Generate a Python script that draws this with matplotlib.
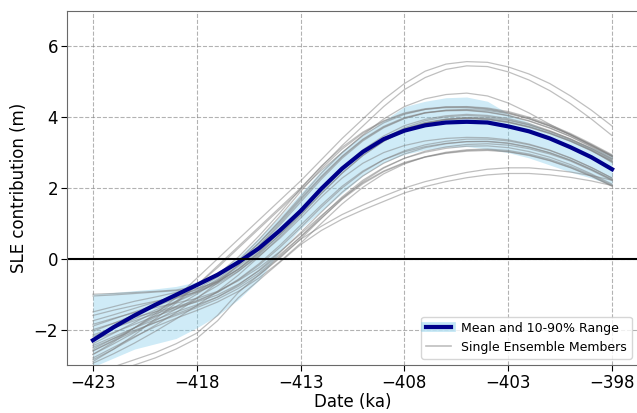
import matplotlib.pyplot as plt
import numpy as np
from matplotlib.lines import Line2D

# Eje de tiempo (ka), un valor por cada mil años
fechas = np.arange(-423, -397)

# Media del ensamble y rango 10-90 %
media = [-2.30, -1.93, -1.60, -1.30, -1.02, -0.74, -0.45, -0.10, 0.30, 0.80,
         1.35, 1.98, 2.55, 3.02, 3.38, 3.62, 3.77, 3.85, 3.87, 3.85,
         3.74, 3.60, 3.40, 3.15, 2.87, 2.53]
p10 = [-3.05, -2.80, -2.55, -2.40, -2.25, -1.95, -1.60, -1.15, -0.60, 0.20,
       0.85, 1.35, 1.85, 2.35, 2.72, 2.95, 3.08, 3.15, 3.17, 3.10,
       3.00, 2.85, 2.65, 2.45, 2.28, 2.08]
p90 = [-1.00, -0.95, -0.90, -0.85, -0.78, -0.65, -0.40, 0.05, 0.60, 1.20,
       1.85, 2.50, 3.05, 3.50, 3.90, 4.30, 4.45, 4.55, 4.57, 4.45,
       4.10, 3.85, 3.60, 3.38, 3.15, 2.95]

# Miembros individuales del ensamble
miembros = [
    [-2.70, -2.35, -1.95, -1.55, -1.10, -0.55, 0.00, 0.55, 1.10, 1.65, 2.20, 2.80, 3.40, 3.95, 4.50, 4.95, 5.30, 5.50, 5.57, 5.55, 5.42, 5.22, 4.95, 4.60, 4.20, 3.75],
    [-2.90, -2.55, -2.15, -1.70, -1.25, -0.75, -0.20, 0.35, 0.90, 1.45, 2.00, 2.60, 3.20, 3.75, 4.30, 4.78, 5.12, 5.35, 5.45, 5.43, 5.28, 5.05, 4.75, 4.38, 3.95, 3.48],
    [-2.60, -2.30, -1.95, -1.60, -1.20, -0.75, -0.25, 0.30, 0.85, 1.40, 1.95, 2.50, 3.00, 3.50, 3.95, 4.30, 4.52, 4.64, 4.68, 4.60, 4.40, 4.12, 3.80, 3.50, 3.20, 2.90],
    [-3.35, -3.05, -2.85, -2.65, -2.40, -2.10, -1.60, -0.95, -0.45, 0.05, 0.55, 0.92, 1.25, 1.52, 1.77, 2.00, 2.18, 2.32, 2.44, 2.53, 2.57, 2.57, 2.52, 2.45, 2.35, 2.22],
    [-3.50, -3.20, -3.00, -2.80, -2.55, -2.25, -1.75, -1.10, -0.60, -0.10, 0.40, 0.80, 1.12, 1.38, 1.62, 1.86, 2.04, 2.18, 2.29, 2.37, 2.41, 2.41, 2.37, 2.30, 2.20, 2.07],
    [-1.00, -0.98, -0.95, -0.92, -0.88, -0.78, -0.50, -0.05, 0.55, 1.20, 1.90, 2.55, 3.10, 3.55, 3.88, 4.10, 4.22, 4.27, 4.27, 4.22, 4.12, 3.96, 3.75, 3.50, 3.21, 2.90],
    [-1.05, -1.02, -0.98, -0.94, -0.90, -0.84, -0.65, -0.30, 0.15, 0.68, 1.25, 1.85, 2.42, 2.92, 3.32, 3.62, 3.82, 3.94, 3.99, 3.98, 3.91, 3.78, 3.60, 3.38, 3.12, 2.82],
    [-1.50, -1.35, -1.20, -1.08, -0.95, -0.78, -0.45, 0.05, 0.65, 1.30, 1.98, 2.62, 3.15, 3.58, 3.90, 4.12, 4.24, 4.29, 4.29, 4.24, 4.13, 3.97, 3.76, 3.51, 3.22, 2.92],
    [-1.75, -1.58, -1.40, -1.22, -1.05, -0.88, -0.62, -0.22, 0.25, 0.80, 1.40, 2.00, 2.55, 3.02, 3.40, 3.67, 3.85, 3.95, 3.98, 3.95, 3.86, 3.72, 3.54, 3.32, 3.05, 2.74],
    [-1.90, -1.70, -1.50, -1.30, -1.10, -0.85, -0.52, -0.08, 0.45, 1.05, 1.70, 2.33, 2.90, 3.38, 3.74, 3.99, 4.13, 4.19, 4.20, 4.15, 4.05, 3.90, 3.70, 3.46, 3.18, 2.88],
    [-2.05, -1.82, -1.58, -1.35, -1.12, -0.92, -0.66, -0.30, 0.18, 0.75, 1.38, 2.00, 2.58, 3.08, 3.47, 3.76, 3.94, 4.04, 4.08, 4.05, 3.96, 3.82, 3.62, 3.39, 3.12, 2.80],
    [-2.20, -1.95, -1.70, -1.45, -1.20, -0.92, -0.58, -0.12, 0.45, 1.08, 1.75, 2.42, 3.00, 3.48, 3.84, 4.08, 4.22, 4.29, 4.30, 4.26, 4.16, 4.00, 3.79, 3.54, 3.25, 2.94],
    [-2.40, -2.10, -1.80, -1.50, -1.22, -0.96, -0.66, -0.28, 0.20, 0.76, 1.36, 1.96, 2.52, 3.00, 3.38, 3.66, 3.84, 3.93, 3.96, 3.93, 3.85, 3.72, 3.54, 3.32, 3.06, 2.76],
    [-2.55, -2.25, -1.95, -1.65, -1.35, -1.00, -0.62, -0.18, 0.35, 0.95, 1.60, 2.25, 2.84, 3.33, 3.70, 3.96, 4.12, 4.20, 4.22, 4.19, 4.10, 3.95, 3.75, 3.51, 3.22, 2.90],
    [-2.70, -2.40, -2.08, -1.75, -1.42, -1.10, -0.76, -0.36, 0.12, 0.68, 1.30, 1.93, 2.50, 3.00, 3.40, 3.70, 3.90, 4.01, 4.05, 4.02, 3.93, 3.79, 3.60, 3.37, 3.09, 2.77],
    [-2.85, -2.55, -2.22, -1.88, -1.52, -1.12, -0.68, -0.18, 0.38, 1.00, 1.66, 2.30, 2.88, 3.36, 3.72, 3.97, 4.12, 4.18, 4.19, 4.14, 4.04, 3.89, 3.69, 3.45, 3.16, 2.84],
    [-2.95, -2.68, -2.38, -2.05, -1.70, -1.32, -0.92, -0.46, 0.06, 0.62, 1.22, 1.84, 2.42, 2.92, 3.32, 3.62, 3.82, 3.93, 3.97, 3.95, 3.87, 3.74, 3.56, 3.34, 3.07, 2.72],
    [-1.60, -1.45, -1.32, -1.20, -1.08, -0.95, -0.70, -0.35, 0.08, 0.58, 1.15, 1.75, 2.28, 2.70, 3.00, 3.20, 3.33, 3.40, 3.43, 3.42, 3.36, 3.24, 3.07, 2.85, 2.58, 2.28],
    [-1.85, -1.68, -1.52, -1.38, -1.25, -1.12, -0.92, -0.62, -0.25, 0.20, 0.70, 1.22, 1.72, 2.15, 2.48, 2.72, 2.88, 2.99, 3.06, 3.08, 3.03, 2.93, 2.78, 2.58, 2.34, 2.06],
    [-2.00, -1.82, -1.65, -1.50, -1.35, -1.18, -0.94, -0.58, -0.14, 0.38, 0.95, 1.52, 2.05, 2.48, 2.80, 3.02, 3.17, 3.26, 3.31, 3.31, 3.26, 3.15, 2.99, 2.78, 2.52, 2.23],
    [-2.15, -1.95, -1.75, -1.55, -1.38, -1.22, -1.02, -0.72, -0.34, 0.12, 0.62, 1.15, 1.68, 2.12, 2.46, 2.70, 2.87, 2.98, 3.04, 3.06, 3.02, 2.92, 2.77, 2.57, 2.33, 2.05],
    [-2.30, -2.08, -1.85, -1.62, -1.42, -1.20, -0.95, -0.60, -0.18, 0.32, 0.88, 1.46, 2.00, 2.45, 2.80, 3.05, 3.22, 3.32, 3.38, 3.38, 3.33, 3.22, 3.06, 2.84, 2.58, 2.28],
    [-2.45, -2.20, -1.95, -1.72, -1.50, -1.30, -1.08, -0.78, -0.40, 0.08, 0.62, 1.20, 1.75, 2.22, 2.58, 2.84, 3.01, 3.12, 3.18, 3.19, 3.14, 3.03, 2.87, 2.66, 2.40, 2.11],
    [-2.60, -2.32, -2.05, -1.80, -1.56, -1.34, -1.08, -0.74, -0.32, 0.18, 0.74, 1.32, 1.88, 2.34, 2.70, 2.96, 3.14, 3.25, 3.31, 3.32, 3.27, 3.16, 3.00, 2.79, 2.53, 2.24],
    [-2.80, -2.50, -2.20, -1.92, -1.68, -1.46, -1.22, -0.92, -0.54, -0.08, 0.44, 1.00, 1.55, 2.02, 2.40, 2.68, 2.88, 3.01, 3.08, 3.10, 3.06, 2.96, 2.81, 2.61, 2.37, 2.08],
    [-2.50, -2.25, -2.02, -1.80, -1.60, -1.38, -1.14, -0.84, -0.46, 0.02, 0.56, 1.14, 1.70, 2.18, 2.56, 2.84, 3.04, 3.16, 3.23, 3.25, 3.21, 3.11, 2.96, 2.76, 2.50, 2.21],
]

ticks_x = [-423, -418, -413, -408, -403, -398]
ticks_y = [-2, 0, 2, 4, 6]

fig = plt.figure(figsize=(6.37, 4.13), dpi=100)
ax = fig.add_axes([0.1052, 0.1162, 0.8964, 0.8572])

# Rango 10-90 % sombreado
ax.fill_between(fechas, p10, p90, color='skyblue', alpha=0.4, linewidth=0)

# Cada miembro del ensamble en gris
for m in miembros:
    ax.plot(fechas, m, color='gray', alpha=0.5, linewidth=0.9)

# Media del ensamble
ax.plot(fechas, media, color='darkblue', linewidth=3)

# Línea en y = 0
ax.axhline(y=0, color='black', linewidth=1.5)

ax.set_xlim(-424.25, -396.75)
ax.set_ylim(-3, 7)
ax.set_xticks(ticks_x)
ax.set_yticks(ticks_y)
ax.tick_params(labelsize=12, length=4, pad=2.5)
ax.grid(True, linestyle='--', color='gray', alpha=0.6, linewidth=0.8)
ax.set_axisbelow(True)
for s in ax.spines.values():
    s.set_color('dimgray')

ax.set_xlabel('Date (ka)', fontsize=12, labelpad=1)
ax.set_ylabel('SLE contribution (m)', fontsize=12, labelpad=4)

# Leyenda con la banda y la media juntas
h_media = (Line2D([], [], color='skyblue', alpha=0.5, linewidth=7),
           Line2D([], [], color='darkblue', linewidth=3))
h_miembro = Line2D([], [], color='gray', alpha=0.5, linewidth=1.2)
ax.legend([h_media, h_miembro], ['Mean and 10-90% Range', 'Single Ensemble Members'],
          loc='lower right', fontsize=9)

plt.savefig('out.png', dpi=100)
